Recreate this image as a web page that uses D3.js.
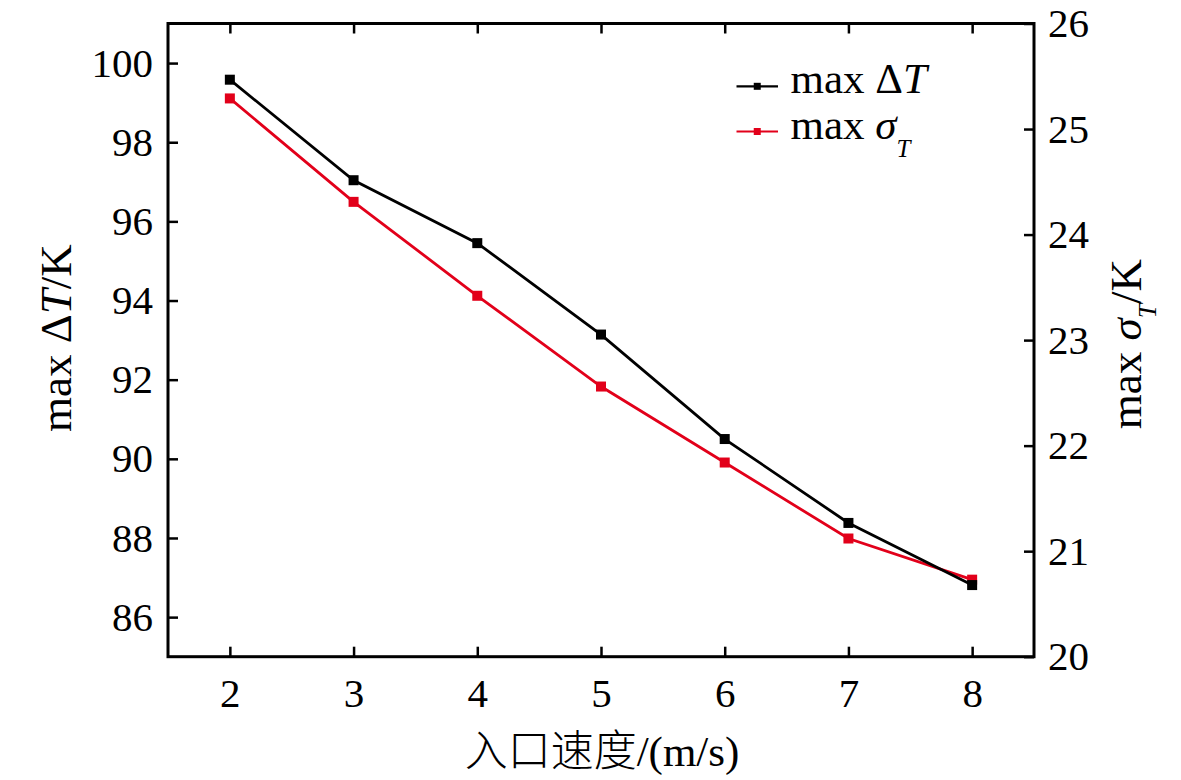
<!DOCTYPE html>
<html>
<head>
<meta charset="utf-8">
<script src="https://cdn.jsdelivr.net/npm/d3@7"></script>
<style>
  html, body { margin: 0; padding: 0; background: #fff; }
  svg { display: block; }
  svg text { font-family: "Liberation Serif", "Times New Roman", serif !important; fill: #000; }
  svg text.cjk { font-family: "Liberation Serif", "Noto Sans CJK SC", serif !important; }
</style>
</head>
<body>
<svg id="chart" width="1181" height="780"></svg>
<script>
// ---- data ----
const velocities = [2, 3, 4, 5, 6, 7, 8];
const maxDeltaT = [99.58, 97.04, 95.45, 93.14, 90.50, 88.38, 86.81];
const maxSigmaT = [25.29, 24.31, 23.42, 22.56, 21.84, 21.12, 20.73];
const xTicks = [2, 3, 4, 5, 6, 7, 8];
const leftTicks = [86, 88, 90, 92, 94, 96, 98, 100];
const rightTicks = [20, 21, 22, 23, 24, 25, 26];
const xTitle = "入口速度/(m/s)";

const colBlack = "#000000";
const colRed = "#e2001a";

const svg = d3.select("#chart");
const L = 168, R = 1034, T = 23.5, B = 656.7;

const x = d3.scaleLinear().domain([1.5, 8.5]).range([L, R]);
const yL = d3.scaleLinear().domain([85, 101]).range([B, T]);
const yR = d3.scaleLinear().domain([20, 26]).range([B, T]);

const tickFont = 41;
const serif = '"Liberation Serif", "Times New Roman", serif';

function styleAxis(g) {
  g.attr("font-family", serif).attr("font-size", tickFont);
  g.select(".domain").remove();
  g.selectAll(".tick line").attr("stroke", "#000").attr("stroke-width", 2.5);
  g.selectAll(".tick text")
    .attr("font-family", serif)
    .style("font-size", tickFont + "px")
    .attr("fill", "#000");
}

svg.append("g").attr("transform", `translate(0,${B})`)
  .call(d3.axisBottom(x).tickValues(xTicks).tickSize(-10).tickPadding(21).tickFormat(d3.format("d")))
  .call(styleAxis);
svg.append("g").attr("transform", `translate(0,${T})`)
  .call(d3.axisTop(x).tickValues(xTicks).tickSize(-10).tickFormat(""))
  .call(styleAxis);
svg.append("g").attr("transform", `translate(${L},0)`)
  .call(d3.axisLeft(yL).tickValues(leftTicks).tickSize(-10).tickPadding(15).tickFormat(d3.format("d")))
  .call(styleAxis);
svg.append("g").attr("transform", `translate(${R},0)`)
  .call(d3.axisRight(yR).tickValues(rightTicks).tickSize(-10).tickPadding(14).tickFormat(d3.format("d")))
  .call(styleAxis);

// frame
svg.append("rect").attr("x", L).attr("y", T).attr("width", R - L).attr("height", B - T)
  .attr("fill", "none").attr("stroke", "#000").attr("stroke-width", 3);

// series
const seriesBlack = velocities.map((v, i) => ({ x: v, y: maxDeltaT[i] }));
const seriesRed = velocities.map((v, i) => ({ x: v, y: maxSigmaT[i] }));

function drawSeries(data, yScale, color) {
  const line = d3.line().x(d => x(d.x)).y(d => yScale(d.y));
  svg.append("path").datum(data).attr("d", line)
    .attr("fill", "none").attr("stroke", color).attr("stroke-width", 2.8);
  const s = 10;
  svg.append("g").selectAll("rect").data(data).join("rect")
    .attr("x", d => x(d.x) - s / 2).attr("y", d => yScale(d.y) - s / 2)
    .attr("width", s).attr("height", s).attr("fill", color);
}
drawSeries(seriesRed, yR, colRed);
drawSeries(seriesBlack, yL, colBlack);

// legend
const legend = [
  { color: colBlack, sym: "Δ", base: "T", sub: null, yb: 93.3 },
  { color: colRed, sym: "σ", base: null, sub: "T", yb: 138.5 }
];
const lg = svg.append("g");
legend.forEach(d => {
  const ym = d.yb - 7;
  lg.append("line").attr("x1", 736.5).attr("x2", 778).attr("y1", ym).attr("y2", ym)
    .attr("stroke", d.color).attr("stroke-width", 2.2);
  lg.append("rect").attr("x", 757.25 - 3.5).attr("y", ym - 3.5).attr("width", 7).attr("height", 7).attr("fill", d.color);
  const t = lg.append("text").attr("x", 790.5).attr("y", d.yb).style("font-size", "43px");
  t.append("tspan").text("max ");
  if (d.base) {
    t.append("tspan").text(d.sym);
    t.append("tspan").attr("font-style", "italic").text(d.base);
  } else {
    t.append("tspan").attr("font-style", "italic").text(d.sym);
    t.append("tspan").attr("font-style", "italic").style("font-size", "25px").attr("dy", 18).text(d.sub);
  }
});

// axis titles
svg.append("text").attr("class", "cjk").attr("x", (L + R) / 2 + 1).attr("y", 766).attr("text-anchor", "middle")
  .style("font-size", "43px").style("font-weight", "300")
  .text(xTitle);

const lt = svg.append("text").attr("transform", `translate(71,${(T + B) / 2 - 2}) rotate(-90)`)
  .attr("text-anchor", "middle").style("font-size", "45px");
lt.append("tspan").text("max Δ");
lt.append("tspan").attr("font-style", "italic").text("T");
lt.append("tspan").text("/K");

const rt = svg.append("text").attr("transform", `translate(1141,${(T + B) / 2 + 4}) rotate(-90)`)
  .attr("text-anchor", "middle").style("font-size", "45px");
rt.append("tspan").text("max ");
rt.append("tspan").attr("font-style", "italic").text("σ");
rt.append("tspan").attr("font-style", "italic").style("font-size", "26px").attr("dy", 15).text("T");
rt.append("tspan").attr("dy", -15).text("/K");
</script>
</body>
</html>
